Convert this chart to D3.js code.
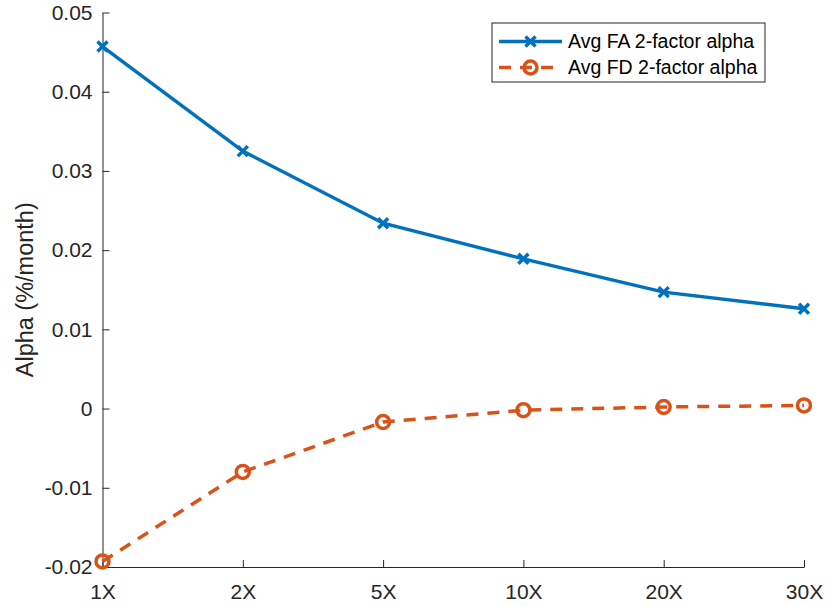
<!DOCTYPE html>
<html>
<head>
<meta charset="utf-8">
<script src="https://cdn.jsdelivr.net/npm/d3@7.9.0/dist/d3.min.js"></script>
<style>
  body { margin: 0; background: #fff; }
  svg { display: block; font-family: "Liberation Sans", Arial, sans-serif; }
</style>
</head>
<body>
<svg id="chart" width="828" height="606"></svg>
<script>
// data
const categories = ['1X', '2X', '5X', '10X', '20X', '30X'];
const faAlpha = [0.0457, 0.0325, 0.0234, 0.0189, 0.0147, 0.0126];
const fdAlpha = [-0.0193, -0.0080, -0.0017, -0.0002, 0.0002, 0.0004];
const yTicks = [-0.02, -0.01, 0, 0.01, 0.02, 0.03, 0.04, 0.05];
const seriesNames = ['Avg FA 2-factor alpha', 'Avg FD 2-factor alpha'];

const blue = '#0072BD';
const orange = '#D95319';
const axisColor = '#262626';

const svg = d3.select('#chart');
const margin = { left: 102.5, right: 24, top: 12.5, bottom: 39 };
const width = 828, height = 606;

const x = d3.scalePoint()
  .domain(categories)
  .range([margin.left, width - margin.right]);

const y = d3.scaleLinear()
  .domain([-0.02, 0.05])
  .range([height - margin.bottom, margin.top]);

// axes (ticks point inward, MATLAB style)
const xAxis = svg.append('g')
  .attr('transform', `translate(0,${height - margin.bottom})`)
  .call(d3.axisBottom(x).tickSizeInner(-7).tickSizeOuter(0).tickPadding(17.5));

const yAxis = svg.append('g')
  .attr('transform', `translate(${margin.left},0)`)
  .call(d3.axisLeft(y).tickValues(yTicks).tickSizeInner(-7).tickSizeOuter(0).tickPadding(10)
    .tickFormat(d => Math.abs(d) < 1e-9 ? '0' : d.toFixed(2)));

[xAxis, yAxis].forEach(g => {
  g.select('.domain').attr('stroke', axisColor).attr('stroke-width', 1);
  g.selectAll('.tick line').attr('stroke', axisColor);
  g.selectAll('.tick text').attr('fill', axisColor).style('font-size', '21px')
    .style('font-family', '"Liberation Sans", Arial, sans-serif');
});
xAxis.selectAll('.tick text').attr('dy', '0.71em');

svg.append('text')
  .attr('transform', `translate(33,${(y.range()[0] + y.range()[1]) / 2}) rotate(-90)`)
  .attr('text-anchor', 'middle')
  .attr('fill', axisColor)
  .style('font-size', '23.5px')
  .text('Alpha (%/month)');

const line = d3.line()
  .x((d, i) => x(categories[i]))
  .y(d => y(d));

// FD series (dashed, open circles)
svg.append('path')
  .datum(fdAlpha)
  .attr('d', line)
  .attr('fill', 'none')
  .attr('stroke', orange)
  .attr('stroke-width', 3.5)
  .attr('stroke-dasharray', '12,9');

function drawCircle(g, cx, cy) {
  g.append('circle')
    .attr('cx', cx).attr('cy', cy).attr('r', 6.5)
    .attr('fill', 'none')
    .attr('stroke', orange)
    .attr('stroke-width', 3.5);
}

function drawCross(g, cx, cy) {
  const s = 5;
  g.append('path')
    .attr('d', `M${cx - s},${cy - s}L${cx + s},${cy + s}M${cx - s},${cy + s}L${cx + s},${cy - s}`)
    .attr('stroke', blue)
    .attr('stroke-width', 3.5)
    .attr('fill', 'none');
}

const fdMarks = svg.append('g');
fdAlpha.forEach((v, i) => drawCircle(fdMarks, x(categories[i]), y(v)));

// FA series (solid, crosses)
svg.append('path')
  .datum(faAlpha)
  .attr('d', line)
  .attr('fill', 'none')
  .attr('stroke', blue)
  .attr('stroke-width', 3.5);

const faMarks = svg.append('g');
faAlpha.forEach((v, i) => drawCross(faMarks, x(categories[i]), y(v)));

// legend
const legend = svg.append('g').attr('transform', 'translate(492,23)');
legend.append('rect')
  .attr('width', 273).attr('height', 59)
  .attr('fill', '#fff')
  .attr('stroke', axisColor)
  .attr('stroke-width', 1);

const rows = [18.5, 44.5];
legend.append('line')
  .attr('x1', 7).attr('x2', 70).attr('y1', rows[0]).attr('y2', rows[0])
  .attr('stroke', blue).attr('stroke-width', 3.5);
drawCross(legend, 38.5, rows[0]);
legend.append('line')
  .attr('x1', 7).attr('x2', 70).attr('y1', rows[1]).attr('y2', rows[1])
  .attr('stroke', orange).attr('stroke-width', 3.5)
  .attr('stroke-dasharray', '12,9');
drawCircle(legend, 38.5, rows[1]);

seriesNames.forEach((name, i) => {
  legend.append('text')
    .attr('x', 76).attr('y', rows[i])
    .attr('dy', '0.35em')
    .attr('fill', '#000')
    .style('font-size', '19.5px')
    .text(name);
});
</script>
</body>
</html>
